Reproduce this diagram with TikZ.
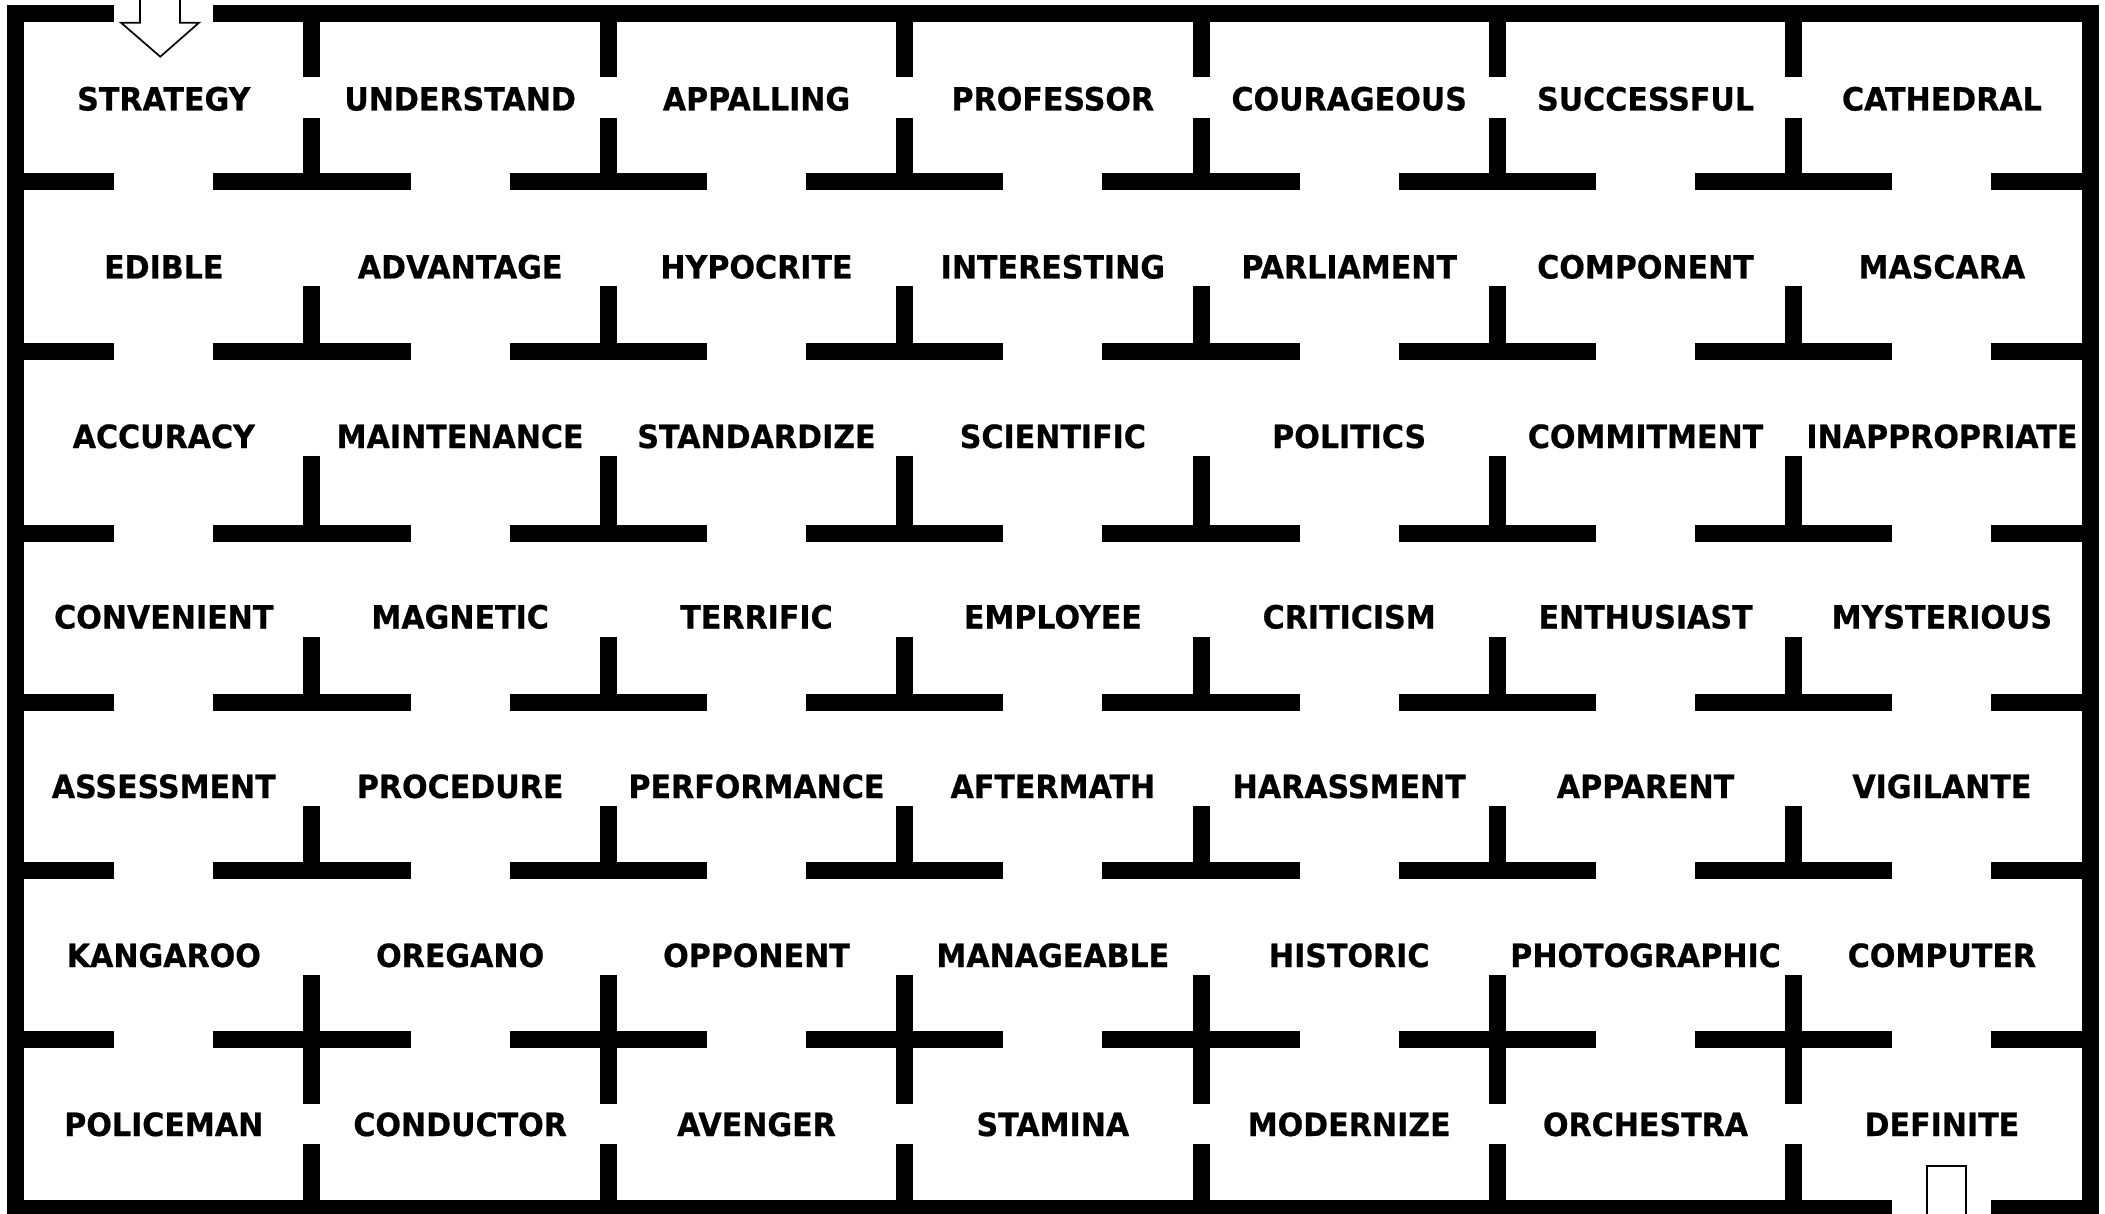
\documentclass[tikz,border=0pt]{standalone}
\usepackage{fontspec}
\newfontfamily\mazefont{DejaVu Sans}[FakeStretch=0.94,BoldFeatures={FakeBold=0.6}]
\begin{document}
\begin{tikzpicture}[x=0.5pt,y=-0.5pt,
  wall/.style={line width=8.5pt, line cap=butt},
  word/.style={anchor=base, inner sep=0pt, font=\mazefont\bfseries\fontsize{16}{18}\selectfont},
  arrowshape/.style={draw=black, fill=white, line width=0.85pt, line join=miter}]
\clip (0,0) rectangle (2105,1214);
\fill[white] (0,0) rectangle (2105,1214);
% outer walls
\draw[wall] (15.6,4.8) -- (15.6,1225);
\draw[wall] (2090.05,4.8) -- (2090.05,1225);
\draw[wall] (7.1,13.3) -- (114.3,13.3);
\draw[wall] (213.3,13.3) -- (2098.55,13.3);
\draw[wall] (7.1,1208.5) -- (1892.4,1208.5);
\draw[wall] (1991.4,1208.5) -- (2098.55,1208.5);
% interior horizontal walls
\foreach \y in {181.7,351.7,533.4,702.3,870.3,1039.7}{
  \foreach \a/\b in {15.6/114.3, 213.3/410.6, 509.6/707.0, 806.0/1003.3, 1102.3/1299.7, 1398.7/1596.0, 1695.0/1892.4, 1991.4/2090.05}
    \draw[wall] (\a,\y) -- (\b,\y);
}
% interior vertical walls
\foreach \x in {311.95,608.3,904.65,1201.0,1497.35,1793.7}{
  \draw[wall] (\x,13.3) -- (\x,77.4);
  \draw[wall] (\x,117.7) -- (\x,181.7);
  \draw[wall] (\x,285.7) -- (\x,351.7);
  \draw[wall] (\x,455.5) -- (\x,533.4);
  \draw[wall] (\x,637.2) -- (\x,702.3);
  \draw[wall] (\x,806.2) -- (\x,870.3);
  \draw[wall] (\x,974.8) -- (\x,1103.6);
  \draw[wall] (\x,1143.9) -- (\x,1208.5);
}
% words
\foreach \w [count=\i from 0] in {STRATEGY,UNDERSTAND,APPALLING,PROFESSOR,COURAGEOUS,SUCCESSFUL,CATHEDRAL}
  \node[word] (wa\i) at ({163.8+296.35*\i},110.5) {\w};
\foreach \w [count=\i from 0] in {EDIBLE,ADVANTAGE,HYPOCRITE,INTERESTING,PARLIAMENT,COMPONENT,MASCARA}
  \node[word] (wb\i) at ({163.8+296.35*\i},278.5) {\w};
\foreach \w [count=\i from 0] in {ACCURACY,MAINTENANCE,STANDARDIZE,SCIENTIFIC,POLITICS,COMMITMENT,INAPPROPRIATE}
  \node[word] (wc\i) at ({163.8+296.35*\i},448) {\w};
\foreach \w [count=\i from 0] in {CONVENIENT,MAGNETIC,TERRIFIC,EMPLOYEE,CRITICISM,ENTHUSIAST,MYSTERIOUS}
  \node[word] (wd\i) at ({163.8+296.35*\i},628.5) {\w};
\foreach \w [count=\i from 0] in {ASSESSMENT,PROCEDURE,PERFORMANCE,AFTERMATH,HARASSMENT,APPARENT,VIGILANTE}
  \node[word] (we\i) at ({163.8+296.35*\i},798) {\w};
\foreach \w [count=\i from 0] in {KANGAROO,OREGANO,OPPONENT,MANAGEABLE,HISTORIC,PHOTOGRAPHIC,COMPUTER}
  \node[word] (wf\i) at ({163.8+296.35*\i},967) {\w};
\foreach \w [count=\i from 0] in {POLICEMAN,CONDUCTOR,AVENGER,STAMINA,MODERNIZE,ORCHESTRA,DEFINITE}
  \node[word] (wg\i) at ({163.8+296.35*\i},1136) {\w};
% entrance and exit arrows
\draw[arrowshape] (140,-10) -- (140,22.7) -- (121,22.7) -- (160.3,56.7) -- (199,22.7) -- (180,22.7) -- (180,-10) -- cycle;
\draw[arrowshape] (1926.7,1230) -- (1926.7,1165.7) -- (1966,1165.7) -- (1966,1230) -- cycle;
\end{tikzpicture}
\end{document}
